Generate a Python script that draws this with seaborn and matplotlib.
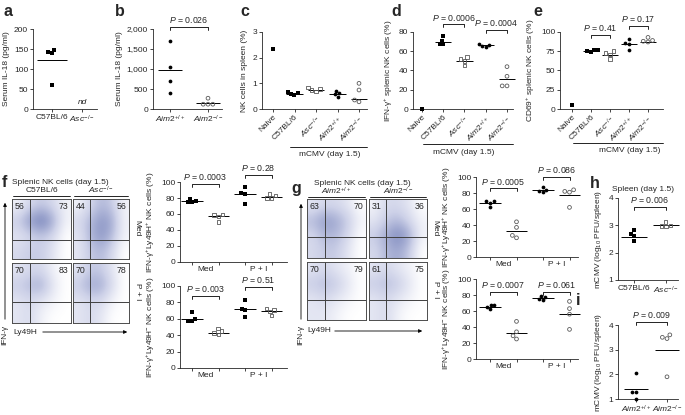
import numpy as np
import pandas as pd
import matplotlib
matplotlib.use('Agg')
import matplotlib.pyplot as plt
import seaborn as sns
from matplotlib.lines import Line2D
from matplotlib.patches import FancyArrowPatch
from matplotlib.colors import LinearSegmentedColormap

sns.set_theme(style='ticks')
plt.rcParams['font.family'] = ['Liberation Sans', 'DejaVu Sans']
plt.rcParams['mathtext.fontset'] = 'custom'
plt.rcParams['mathtext.rm'] = 'Liberation Sans'
plt.rcParams['mathtext.it'] = 'Liberation Sans:italic'
plt.rcParams['mathtext.bf'] = 'Liberation Sans:bold'
plt.rcParams['mathtext.sf'] = 'Liberation Sans'

# ---------------- data ----------------
C57 = 'C57BL/6'
ASC = r'$\mathit{Asc}^{-/-}$'
WT = r'$\mathit{Aim2}^{+/+}$'
KO = r'$\mathit{Aim2}^{-/-}$'
NAIVE = 'Naive'

a_c57 = [143, 140, 148, 60]
a_lines = [123, None]

b_wt = [1700, 1040, 700, 410]
b_ko = [270, 120, 120, 120]
b_lines = [970, 150]

c_naive = [2.35]
c_c57 = [0.61, 0.68, 0.55, 0.58]
c_asc = [0.84, 0.77, 0.68, 0.74]
c_wt = [0.71, 0.61, 0.48, 0.58]
c_ko = [1.0, 0.74, 0.35, 0.28]
c_lines = [None, 0.58, 0.74, 0.58, 0.39]

d_naive = [0.5]
d_c57 = [76, 71, 68, 67.5]
d_asc = [54, 52, 50, 45]
d_wt = [67.5, 66, 65, 64.5]
d_ko = [44, 34, 24, 24]
d_lines = [None, 70, 50, 66, 31]

e_naive = [5]
e_c57 = [76, 75, 73.5, 76]
e_asc = [75, 72.5, 71, 65]
e_wt = [91, 86, 85, 77]
e_ko = [93, 89, 88, 87]
e_lines = [None, 75, 70, 85, 87]

f_med_c57_pos = [79, 76, 75, 75]
f_med_asc_pos = [59.5, 59, 57, 50]
f_pi_c57_pos = [94, 86, 85, 72]
f_pi_asc_pos = [85, 83, 80, 80]
f_pos_lines = [76.5, 57, 85, 81]
f_med_c57_neg = [68, 59.5, 57, 57]
f_med_asc_neg = [48, 45, 43, 41]
f_pi_c57_neg = [82.5, 72.5, 70.5, 62]
f_pi_asc_neg = [72.5, 70.5, 69, 64]
f_neg_lines = [59.5, 43, 72.5, 69]

g_med_wt_pos = [70, 70, 68, 63]
g_med_ko_pos = [44, 37, 27, 24]
g_pi_wt_pos = [87, 84, 82, 81]
g_pi_ko_pos = [84, 82, 81, 62]
g_pos_lines = [67, 32.5, 84, 77]
g_med_wt_neg = [68, 67, 65, 62]
g_med_ko_neg = [47, 34, 29, 25]
g_pi_wt_neg = [79, 78, 75, 74]
g_pi_ko_neg = [72, 63, 56, 37]
g_neg_lines = [65, 33, 76, 56]

h_c57 = [2.84, 2.68, 2.62, 2.43]
h_asc = [3.12, 3.0, 2.98, 2.96]
h_lines = [2.59, 3.0]
i_wt = [2.05, 1.3, 1.3, 1.0]
i_ko = [3.6, 3.5, 3.45, 1.9]
i_lines = [1.4, 3.0]

# flow density grids (rows top->bottom, cols left->right)
f_c57_med = [[1, 3, 4, 3, 1], [4, 7, 9, 6, 1], [2, 3, 4, 3, 0], [3, 4, 4, 2, 0]]
f_asc_med = [[1, 3, 5, 4, 1], [3, 5, 7, 6, 1], [2, 5, 7, 5, 1], [2, 4, 5, 3, 0]]
f_c57_pi = [[2, 3, 3, 1, 0], [4, 5, 6, 2, 0], [2, 3, 2, 1, 0], [2, 3, 1, 0, 0]]
f_asc_pi = [[2, 4, 4, 2, 0], [4, 6, 6, 3, 0], [2, 3, 3, 1, 0], [2, 3, 2, 0, 0]]
g_wt_med = [[2, 3, 3, 2, 0], [5, 7, 6, 4, 1], [3, 5, 5, 3, 0], [3, 4, 4, 2, 0]]
g_ko_med = [[1, 3, 3, 2, 0], [2, 4, 5, 3, 1], [4, 6, 8, 6, 1], [3, 5, 6, 4, 0]]
g_wt_pi = [[2, 3, 2, 1, 0], [4, 5, 4, 2, 0], [2, 3, 2, 1, 0], [2, 2, 1, 0, 0]]
g_ko_pi = [[2, 3, 2, 1, 0], [4, 5, 4, 2, 0], [2, 3, 2, 1, 0], [2, 3, 1, 0, 0]]
f_nums = [[56, 73], [44, 56], [70, 83], [70, 78]]
g_nums = [[63, 70], [31, 36], [70, 79], [61, 75]]

# ---------------- layout helpers ----------------
W, H = 685, 415
fig = plt.figure(figsize=(W / 100, H / 100), dpi=100)
FS = 6


def fx(x):
    return x / W


def fy(y):
    return 1 - y / H


def box(l, t, r, b):
    return fig.add_axes([l / W, 1 - b / H, (r - l) / W, (b - t) / H])


def style(ax):
    sns.despine(ax=ax)
    for s in ['left', 'bottom']:
        ax.spines[s].set_linewidth(0.6)
    ax.tick_params(length=2, width=0.6, pad=1.5, labelsize=FS)
    ax.tick_params(which='minor', length=2, width=0.6)


FSQ = ('s', True)
OSQ = ('s', False)
FCI = ('o', True)
OCI = ('o', False)


def strip(ax, vals, styles, lines, hw=0.35, size=2.7):
    keys = [str(i) for i in range(len(vals))]
    for k, v, (m, filled) in zip(keys, vals, styles):
        if len(v) == 0:
            continue
        df = pd.DataFrame({'grp': [k] * len(v), 'val': v})
        n0 = len(ax.collections)
        sns.swarmplot(data=df, x='grp', y='val', order=keys, ax=ax, marker=m,
                      size=size if m == 'o' else size * 0.95, color='black',
                      linewidth=0 if filled else 0.6, warn_thresh=1)
        for c in ax.collections[n0:]:
            if len(c.get_offsets()) > 0:
                c.set_clip_on(False)
            if not filled:
                c.set_facecolor('none')
                c.set_edgecolor('0.35')
    for i, ln in enumerate(lines):
        if ln is None:
            continue
        ax.hlines(ln, i - hw, i + hw, color='black', lw=0.7, clip_on=False)
    ax.set_xlabel('')
    ax.set_ylabel('')


def setx(ax, l, r, first, step):
    ax.set_xlim((l - first) / step, (r - first) / step)


def bracket(ax, x1, x2, y, p):
    lo, hi = ax.get_ylim()
    d = 0.035 * (hi - lo)
    ax.plot([x1, x1, x2, x2], [y - d, y, y, y - d], color='black', lw=0.6, clip_on=False)
    ax.annotate(f'$P$ = {p}', xy=((x1 + x2) / 2, y), xytext=(0, 1.2), textcoords='offset points',
                ha='center', va='bottom', fontsize=6.3, annotation_clip=False)


def letter(x, y, s):
    fig.text(fx(x), fy(y), s, fontsize=11.5, fontweight='bold', ha='left', va='center')


def mcmv(x1, x2, y, xt):
    fig.add_artist(Line2D([fx(x1), fx(x2)], [fy(y), fy(y)], color='black', lw=0.6))
    fig.text(fx(xt), fy(y + 8), 'mCMV (day 1.5)', fontsize=FS, ha='center', va='center')


# ---------------- panel a ----------------
ax = box(33, 29, 97, 109)
strip(ax, [a_c57, []], [FSQ, OSQ], a_lines, hw=0.5)
ax.set_ylim(0, 200)
ax.set_yticks([0, 50, 100, 150, 200])
setx(ax, 33, 97, 52, 30)
ax.set_xticks([0, 1])
ax.set_xticklabels([C57, ASC])
ax.set_ylabel('Serum IL-18 (pg/ml)', fontsize=FS, labelpad=3)
ax.text(1, 8, 'nd', fontsize=FS, style='italic', ha='center', va='bottom')
style(ax)

# ---------------- panel b ----------------
ax = box(153, 29, 222, 109)
strip(ax, [b_wt, b_ko], [FCI, OCI], b_lines, hw=0.32)
ax.set_ylim(0, 2000)
ax.set_yticks([0, 500, 1000, 1500, 2000])
ax.set_yticklabels(['0', '500', '1,000', '1,500', '2,000'])
setx(ax, 153, 222, 170, 38)
ax.set_xticks([0, 1])
ax.set_xticklabels([WT, KO])
ax.set_ylabel('Serum IL-18 (pg/ml)', fontsize=FS, labelpad=3)
bracket(ax, 0, 1, 2050, '0.026')
style(ax)

# ---------------- panel c ----------------
cde_labels = [NAIVE, C57, ASC, WT, KO]
cde_styles = [FSQ, FSQ, OSQ, FCI, OCI]
ax = box(262, 32, 367, 109)
strip(ax, [c_naive, c_c57, c_asc, c_wt, c_ko], cde_styles, c_lines, hw=0.38)
ax.set_ylim(0, 3)
ax.set_yticks([0, 1, 2, 3])
setx(ax, 262, 367, 273, 21.5)
ax.set_xticks(range(5))
ax.set_xticklabels(cde_labels, rotation=45, ha='right', rotation_mode='anchor')
ax.set_ylabel('NK cells in spleen (%)', fontsize=FS, labelpad=3)
style(ax)
mcmv(290, 367, 147, 330)

# ---------------- panel d ----------------
ax = box(413, 32, 513, 109)
strip(ax, [d_naive, d_c57, d_asc, d_wt, d_ko], cde_styles, d_lines, hw=0.38)
ax.set_ylim(0, 80)
ax.set_yticks([0, 20, 40, 60, 80])
setx(ax, 413, 513, 422, 21.25)
ax.set_xticks(range(5))
ax.set_xticklabels(cde_labels, rotation=45, ha='right', rotation_mode='anchor')
ax.set_ylabel('IFN-γ$^{+}$ splenic NK cells (%)', fontsize=FS, labelpad=3)
bracket(ax, 1, 2, 88, '0.0006')
bracket(ax, 3, 4, 82, '0.0004')
style(ax)
mcmv(423, 513, 144, 464)

# ---------------- panel e ----------------
ax = box(560, 32, 663, 109)
strip(ax, [e_naive, e_c57, e_asc, e_wt, e_ko], cde_styles, e_lines, hw=0.42)
ax.set_ylim(0, 100)
ax.set_yticks([0, 25, 50, 75, 100])
setx(ax, 560, 663, 572, 19)
ax.set_xticks(range(5))
ax.set_xticklabels(cde_labels, rotation=45, ha='right', rotation_mode='anchor')
ax.set_ylabel('CD69$^{+}$ splenic NK cells (%)', fontsize=FS, labelpad=3)
bracket(ax, 1, 2, 96, '0.41')
bracket(ax, 3, 4, 108, '0.17')
style(ax)
mcmv(573, 663, 143, 630)


# ---------------- strip panels f, g ----------------
def medpi(ax, vals, styles, lines, l, r, first, step, ylabel):
    strip(ax, vals, styles, lines, hw=0.4)
    ax.set_ylim(0, 100)
    ax.set_yticks([0, 20, 40, 60, 80, 100])
    setx(ax, l, r, first, step)
    ax.set_xticks([0.5, 2.5])
    ax.set_xticklabels(['Med', 'P + I'])
    ax.set_xticks([0, 1, 2, 3], minor=True)
    style(ax)
    ax.tick_params(axis='x', which='major', length=0, pad=3)
    ax.set_ylabel(ylabel, fontsize=FS, labelpad=3)


POS = 'IFN-γ$^{+}$Ly49H$^{+}$ NK cells (%)'
NEG = 'IFN-γ$^{+}$Ly49H$^{-}$ NK cells (%)'
fst = [FSQ, OSQ, FSQ, OSQ]
gst = [FCI, OCI, FCI, OCI]

ax = box(180, 182, 287, 262)
medpi(ax, [f_med_c57_pos, f_med_asc_pos, f_pi_c57_pos, f_pi_asc_pos], fst, f_pos_lines, 180, 287, 192, 26.5, POS)
bracket(ax, 0, 1, 97.5, '0.0003')
bracket(ax, 2, 3, 109, '0.28')
ax = box(180, 286, 287, 368)
medpi(ax, [f_med_c57_neg, f_med_asc_neg, f_pi_c57_neg, f_pi_asc_neg], fst, f_neg_lines, 180, 287, 192, 26.5, NEG)
bracket(ax, 0, 1, 88, '0.003')
bracket(ax, 2, 3, 99, '0.51')

ax = box(476, 177, 578, 257)
medpi(ax, [g_med_wt_pos, g_med_ko_pos, g_pi_wt_pos, g_pi_ko_pos], gst, g_pos_lines, 476, 578, 490, 26.5, POS)
bracket(ax, 0, 1, 86, '0.0005')
bracket(ax, 2, 3, 100, '0.086')
ax = box(476, 279, 578, 359)
medpi(ax, [g_med_wt_neg, g_med_ko_neg, g_pi_wt_neg, g_pi_ko_neg], gst, g_neg_lines, 476, 578, 490, 26.5, NEG)
bracket(ax, 0, 1, 84, '0.0007')
bracket(ax, 2, 3, 84, '0.061')

# ---------------- panels h, i ----------------
LOGL = 'mCMV (log$_{10}$ PFU/spleen)'
ax = box(618, 198, 678, 280)
strip(ax, [h_c57, h_asc], [FSQ, OSQ], h_lines, hw=0.4)
ax.set_ylim(1, 4)
ax.set_yticks([1, 2, 3, 4])
setx(ax, 618, 678, 634, 32)
ax.set_xticks([0, 1])
ax.set_xticklabels([C57, ASC])
ax.set_ylabel(LOGL, fontsize=FS, labelpad=3)
bracket(ax, 0, 1, 3.67, '0.006')
style(ax)
fig.text(fx(643), fy(189), 'Spleen (day 1.5)', fontsize=FS, ha='center', va='center')

ax = box(618, 325, 678, 399)
strip(ax, [i_wt, i_ko], [FCI, OCI], i_lines, hw=0.4)
ax.set_ylim(1, 4)
ax.set_yticks([1, 2, 3, 4])
setx(ax, 618, 678, 636, 31)
ax.set_xticks([0, 1])
ax.set_xticklabels([WT, KO])
ax.set_ylabel(LOGL, fontsize=FS, labelpad=3)
bracket(ax, 0, 1, 4.12, '0.009')
style(ax)

# ---------------- flow panels ----------------
cmap = LinearSegmentedColormap.from_list('flow', ['#ffffff', '#cdd1e8', '#8590c2', '#3e4b8e'])


def flow(l, t, r, b, grid, nums, hfrac):
    ax = box(l, t, r, b)
    ax.imshow(np.array(grid, dtype=float), cmap=cmap, vmin=0, vmax=11, extent=[0, 1, 0, 1],
              aspect='auto', interpolation='bicubic', origin='upper')
    ax.axvline(0.3, color='0.25', lw=0.7)
    ax.axhline(hfrac, color='0.25', lw=0.7)
    ax.set_xlim(0, 1)
    ax.set_ylim(0, 1)
    ax.set_xticks([])
    ax.set_yticks([])
    for s in ax.spines.values():
        s.set_visible(True)
        s.set_linewidth(0.7)
        s.set_color('0.3')
    ax.text(0.05, 0.95, str(nums[0]), ha='left', va='top', fontsize=6.3)
    ax.text(0.96, 0.95, str(nums[1]), ha='right', va='top', fontsize=6.3)


flow(12, 199, 71, 259, f_c57_med, f_nums[0], 0.32)
flow(73, 199, 129, 259, f_asc_med, f_nums[1], 0.32)
flow(12, 263, 71, 323, f_c57_pi, f_nums[2], 0.35)
flow(73, 263, 129, 323, f_asc_pi, f_nums[3], 0.35)
flow(307, 199, 366, 258, g_wt_med, g_nums[0], 0.35)
flow(369, 199, 427, 258, g_ko_med, g_nums[1], 0.35)
flow(307, 262, 366, 320, g_wt_pi, g_nums[2], 0.35)
flow(369, 262, 427, 320, g_ko_pi, g_nums[3], 0.35)


def flow_frame(x_arrow, y_top, y_bot, lab_x, ly_y, ly_x0, ly_x1, side_x, med_y, pi_y,
               head_c, head_l, sub1, sub1_x, sub2, sub2_x, ul):
    fig.add_artist(FancyArrowPatch((fx(x_arrow), fy(y_bot)), (fx(x_arrow), fy(y_top)),
                                   transform=fig.transFigure, arrowstyle='-|>', mutation_scale=5,
                                   lw=0.6, color='black'))
    fig.text(fx(x_arrow), fy(y_bot + 13), 'IFN-γ', rotation=90, fontsize=FS, ha='center', va='center')
    fig.text(fx(lab_x), fy(ly_y), 'Ly49H', fontsize=FS, ha='left', va='center')
    fig.add_artist(FancyArrowPatch((fx(ly_x0), fy(ly_y)), (fx(ly_x1), fy(ly_y)),
                                   transform=fig.transFigure, arrowstyle='-|>', mutation_scale=5,
                                   lw=0.6, color='black'))
    fig.text(fx(side_x), fy(med_y), 'Med', rotation=270, fontsize=FS, ha='center', va='center')
    fig.text(fx(side_x), fy(pi_y), 'P + I', rotation=270, fontsize=FS, ha='center', va='center')
    fig.text(fx(head_c), fy(head_l), 'Splenic NK cells (day 1.5)', fontsize=FS, ha='center', va='center')
    fig.text(fx(sub1_x), fy(head_l + 8), sub1, fontsize=FS, ha='center', va='center')
    fig.text(fx(sub2_x), fy(head_l + 8), sub2, fontsize=FS, ha='center', va='center')
    for x0, x1 in ul:
        fig.add_artist(Line2D([fx(x0), fx(x1)], [fy(head_l + 14)] * 2, color='black', lw=0.6))


flow_frame(5, 200, 322, 13, 332, 40, 130, 137, 228, 292, 60, 182, C57, 42, ASC, 101,
           [(13, 70), (74, 128)])
flow_frame(301, 201, 322, 307, 331, 332, 425, 435, 228, 290, 362, 183, WT, 336, KO, 398,
           [(308, 365), (370, 426)])

# ---------------- panel letters ----------------
letter(3, 12, 'a')
letter(115, 12, 'b')
letter(240, 12, 'c')
letter(391, 12, 'd')
letter(533, 12, 'e')
letter(2, 182, 'f')
letter(291, 188, 'g')
letter(590, 183, 'h')
letter(576, 300, 'i')

fig.savefig('out.png', dpi=100)
